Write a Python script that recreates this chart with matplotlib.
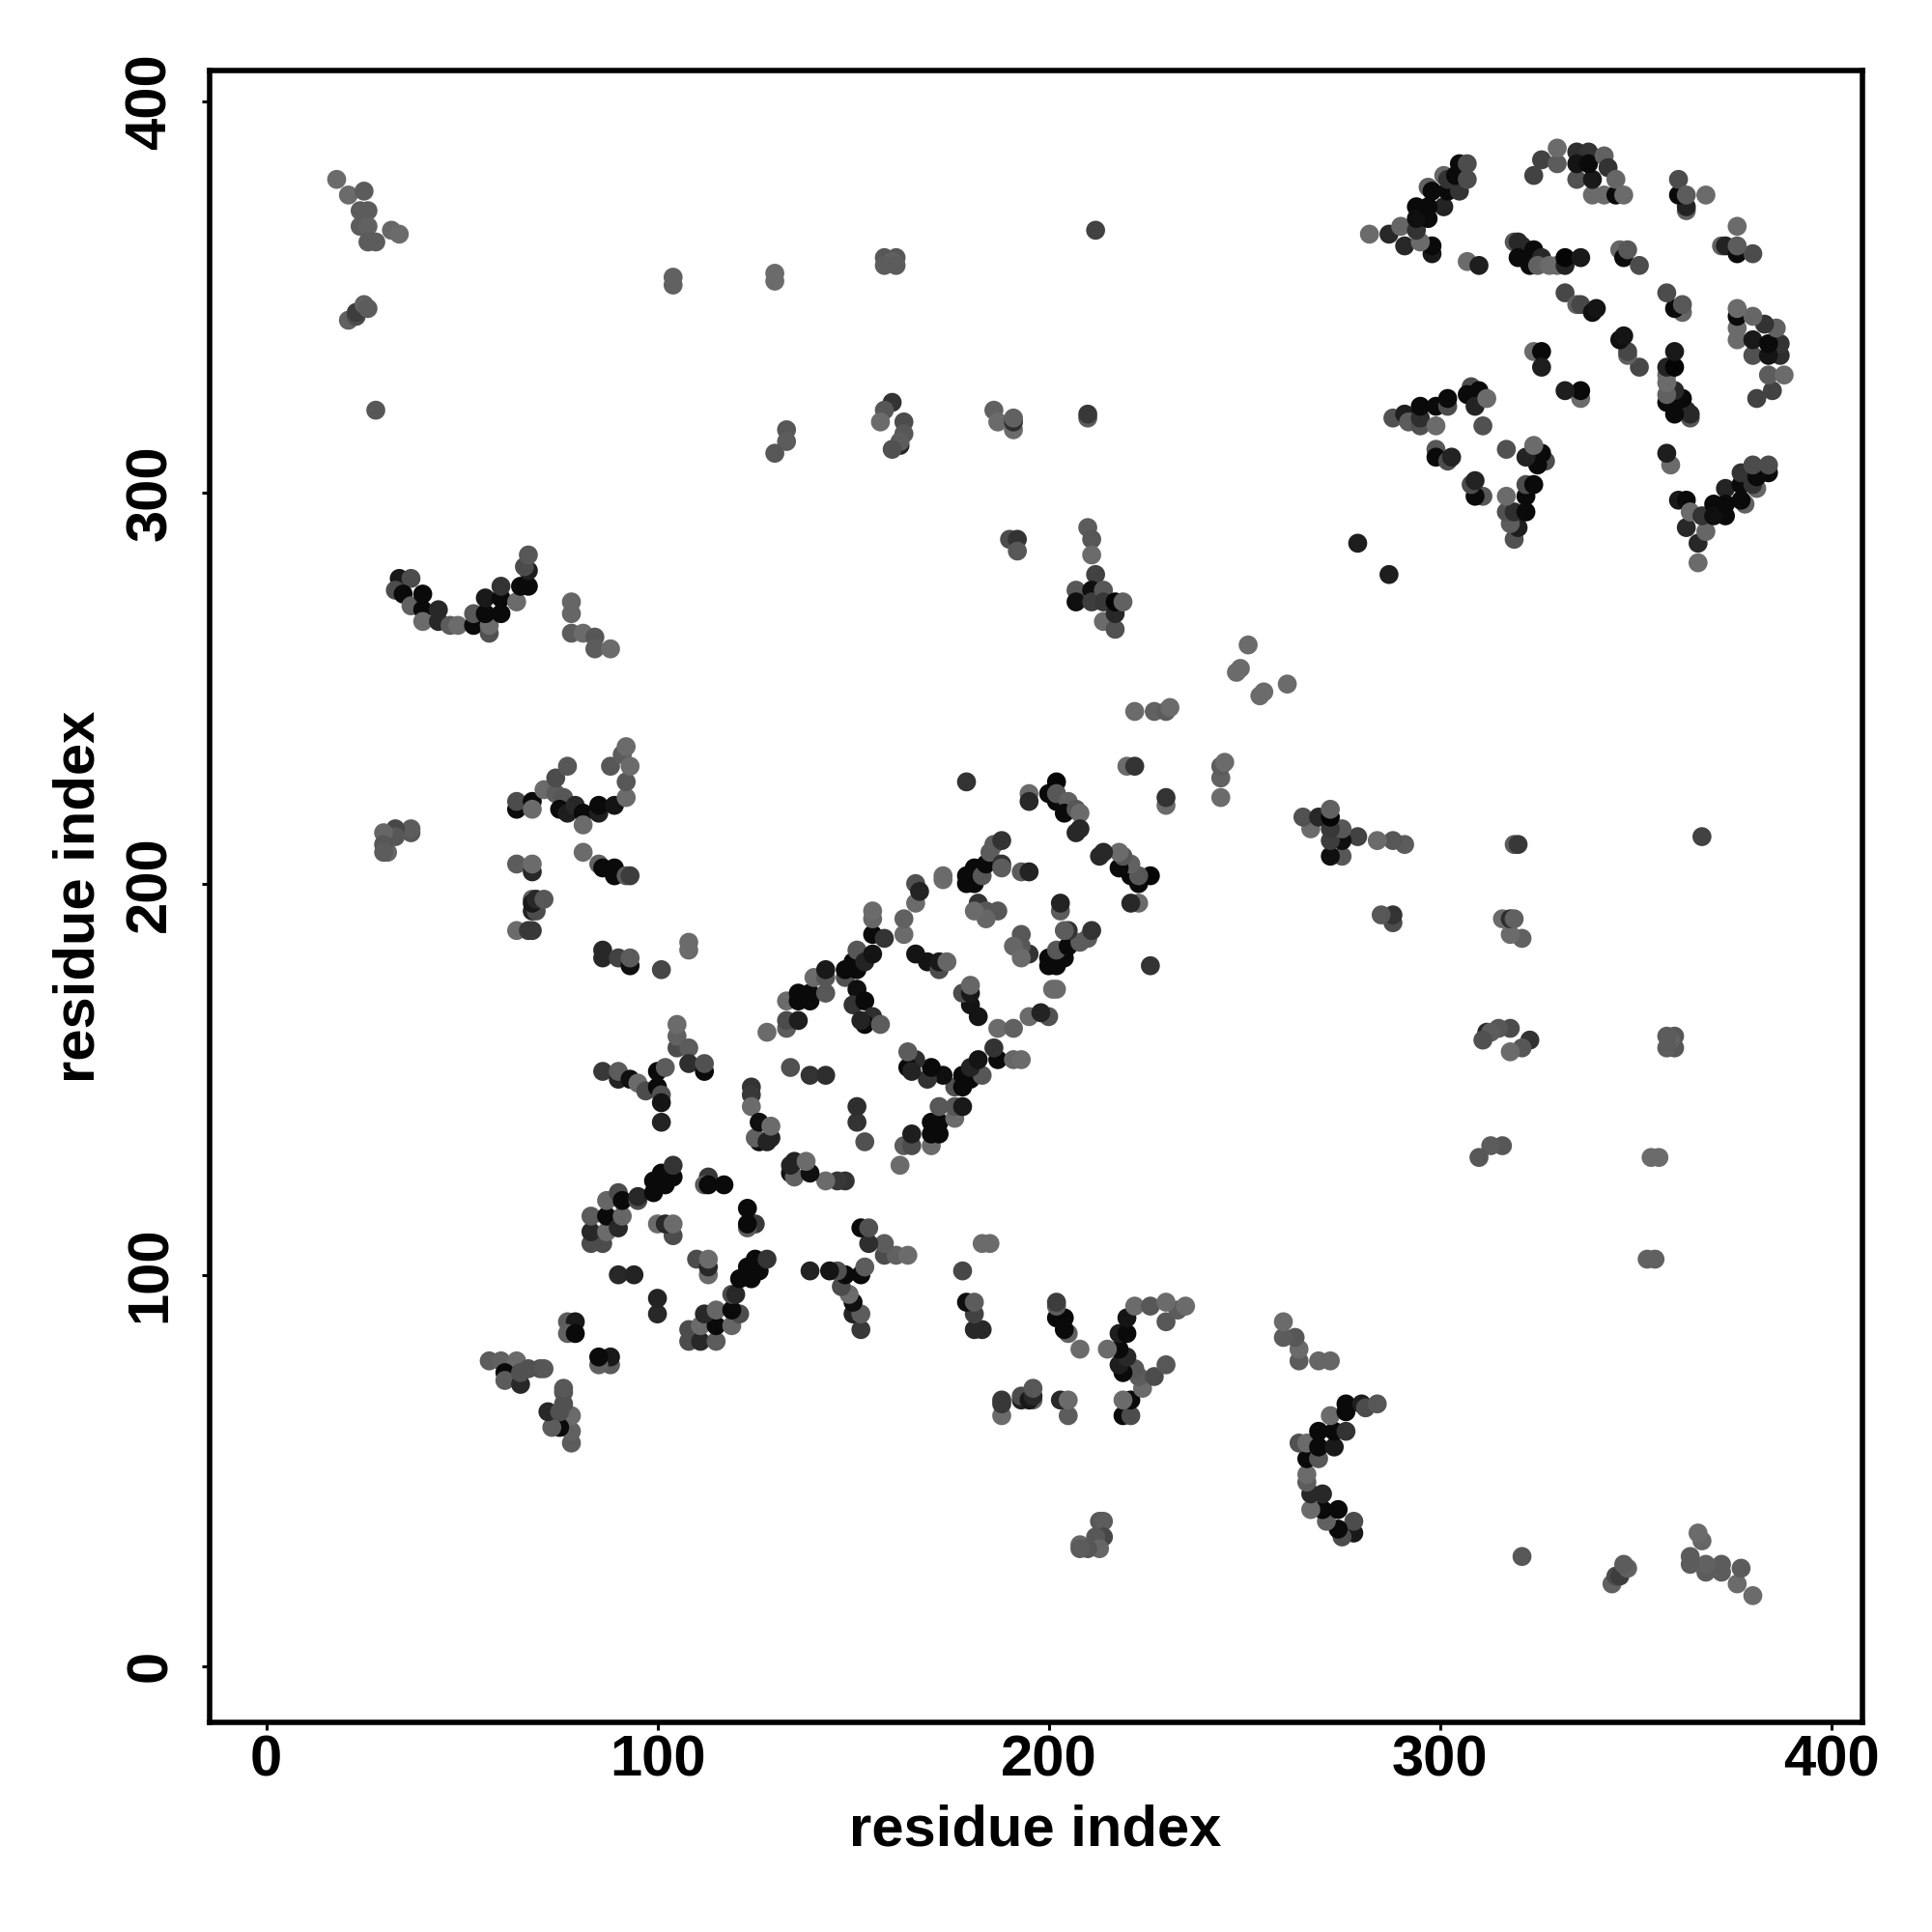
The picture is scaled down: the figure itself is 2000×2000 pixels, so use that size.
import numpy as np
import matplotlib
matplotlib.use('Agg')
import matplotlib.pyplot as plt

matplotlib.rcParams['font.family'] = ['Liberation Sans', 'DejaVu Sans']
matplotlib.rcParams['font.weight'] = 'bold'

# contacts, upper triangle only (the map is symmetric). one row per patch in all three lists
res_a = [18,21,25,24,26,24,26,26,28,32,34,
         21,23,23,25,26,
         28,
         37,37,33,33,30,31,30,30,
         34,33,37,35,37,40,40,40,44,44,47,49,53,53,57,57,56,60,56,60,60,64,65,67,67,66,67,
         78,78,78,81,84,84,88,
         64,64,68,68,71,74,74,77,76,75,77,79,81,81,85,85,89,92,92,88,91,93,92,
         81,85,86,89,89,92,93,
         64,68,68,
         68,68,69,68,69,71,
         64,67,68,
         86,86,90,93,93,
         101,
         108,108,
         86,90,90,93,95,97,100,100,101,102,105,105,105,108,108,112,112,
         101,101,
         83,86,83,87,83,87,90,91,87,90,91,95,95,99,99,102,104,101,104,
         100,104,102,104,
         113,112,113,117,
         90,94,
         77,79,77,79,
         57,60,64,61,61,65,65,67,70,71,
         128,133,133,136,133,136,136,139,139,140,143,143,143,148,148,150,151,152,151,153,155,155,158,155,155,
         163,163,166,166,167,173,173,
         179,179,181,181,183,184,185,186,188,188,188,
         193,195,
         195,195,
         179,
         200,202,202,202,205,204,207,208,207,208,
         182,184,187,184,181,
         166,169,172,172,174,
         151,150,153,155,153,152,157,
         134,139,143,
         124,124,124,126,125,126,129,128,129,
         104,104,130,130,158,161,160,158,161,212,
         133,133,130,
         160,158,157,163,163,162,162,160,
         186,187,191,191,191,
         210,210,
         190,192,192,
         210,211,211,212,207,207,211,211,214,214,214,217,217,217,219,
         251,249,248,
         222,227,230,231,
         220,222,
         279,
         282,287,291,298,298,295,290,294,294,297,294,297,301,297,298,302,305,301,302,304,305,307,307,
         307,310,
         319,320,321,320,323,324,326,325,328,330,332,332,336,
         346,347,348,351,
         332,335,336,339,340,
         324,326,326,
         326,324,330,330,335,338,335,335,339,342,339,338,342,343,345,345,347,
         363,363,361,361,363,368,
         288,291,292,295,295,295,299,299,302,302,
         308,307,310,309,311,312,
         299,299,302,303]
res_b = [380,376,377,372,372,368,368,364,364,367,366,
         344,345,346,348,347,
         321,
         213,214,214,212,213,208,210,208,
         278,275,278,274,271,274,270,267,270,267,266,266,266,269,264,266,269,269,273,273,276,272,276,276,280,281,284,
         272,269,264,264,263,260,260,
         219,221,221,219,224,223,227,230,222,219,218,220,218,215,218,220,220,222,226,230,233,230,235,
         208,205,204,204,202,202,202,
         205,203,205,
         196,193,193,195,196,196,
         188,188,188,
         183,181,181,179,181,
         178,
         185,183,
         152,150,152,150,149,147,152,148,146,153,158,161,164,158,154,152,154,
         144,139,
         108,108,111,111,115,115,112,115,119,121,119,119,120,121,124,123,125,126,128,
         113,110,113,113,
         125,123,123,123,
         100,100,
         88,88,85,85,
         78,78,78,75,73,72,75,76,76,76,
         162,163,165,165,170,172,170,170,172,176,172,176,178,176,178,180,178,181,183,180,182,187,186,191,193,
         187,191,195,200,198,201,202,
         200,202,204,200,202,205,208,210,211,205,204,
         203,203,
         223,221,
         226,
         223,221,226,223,221,218,219,218,213,214,
         195,193,193,191,193,
         182,180,178,180,180,
         173,169,170,166,164,165,164,
         153,151,151,
         148,146,143,134,135,139,135,134,138,
         355,353,356,354,360,360,359,358,358,367,
         316,313,310,
         323,321,318,318,315,312,313,311,
         321,318,316,318,319,
         319,320,
         288,288,285,
         291,288,284,279,275,272,275,272,275,272,267,265,269,272,272,
         261,255,254,
         244,244,244,245,
         230,230,
         287,
         366,366,363,361,363,364,368,367,373,370,370,378,373,373,377,377,377,381,380,381,384,384,380,
         359,358,
         364,364,363,360,358,362,360,358,358,358,358,360,360,
         362,360,362,358,
         351,348,348,346,347,
         336,336,332,
         385,381,384,388,387,387,380,384,376,376,380,384,386,383,376,380,376,
         372,373,376,380,376,376,
         319,320,318,317,319,322,322,317,322,324,
         327,325,326,322,317,324,
         311,309,308,309]
# grey level of each dot, 0 is black
grey = [.42,.42,.36,.36,.36,.36,.38,.36,.36,.40,.42,
        .38,.30,.24,.38,.36,
        .34,
        .34,.36,.28,.34,.40,.40,.34,.36,
        .10,.30,.30,.04,.38,.04,.04,.42,.16,.16,.36,.42,.04,.34,.32,.42,.04,.04,.10,.04,.20,.42,.04,.04,.12,.30,.34,
        .40,.40,.36,.42,.34,.36,.42,
        .04,.30,.04,.42,.42,.36,.30,.34,.34,.04,.12,.16,.04,.42,.12,.04,.08,.42,.34,.34,.36,.42,.42,
        .42,.38,.04,.04,.04,.36,.24,
        .36,.16,.42,
        .38,.14,.30,.10,.16,.34,
        .42,.22,.22,
        .16,.16,.26,.06,.36,
        .28,
        .42,.42,
        .22,.14,.36,.06,.42,.30,.04,.04,.32,.36,.30,.38,.42,.36,.18,.04,.32,
        .08,.14,
        .30,.30,.16,.42,.36,.04,.16,.40,.40,.30,.04,.30,.16,.04,.04,.04,.04,.04,.20,
        .42,.30,.16,.42,
        .22,.36,.04,.04,
        .16,.14,
        .36,.10,.38,.04,
        .36,.38,.42,.04,.36,.16,.32,.32,.32,.34,
        .42,.36,.30,.12,.42,.04,.04,.04,.04,.42,.34,.34,.10,.32,.04,.04,.04,.04,.34,.14,.08,.04,.20,.40,.42,
        .42,.38,.42,.32,.14,.42,.42,
        .04,.04,.04,.04,.34,.04,.36,.36,.20,.20,.36,
        .36,.14,
        .42,.16,
        .20,
        .04,.04,.02,.34,.38,.04,.34,.42,.16,.16,
        .20,.34,.34,.40,.42,
        .08,.08,.30,.10,.40,
        .06,.20,.04,.18,.04,.14,.36,
        .32,.20,.18,
        .20,.22,.42,.06,.38,.06,.14,.14,.42,
        .38,.38,.42,.42,.34,.34,.38,.36,.36,.26,
        .34,.36,.34,
        .20,.34,.42,.30,.34,.16,.36,.32,
        .38,.42,.42,.18,.38,
        .36,.22,
        .30,.20,.34,
        .36,.34,.42,.26,.34,.06,.06,.24,.34,.22,.42,.32,.16,.02,.38,
        .42,.42,.42,
        .42,.38,.36,.42,
        .42,.20,
        .12,
        .42,.16,.16,.10,.04,.42,.40,.20,.04,.04,.06,.38,.14,.04,.04,.04,.20,.40,.20,.04,.04,.30,.30,
        .42,.12,
        .34,.16,.16,.04,.04,.04,.16,.38,.42,.42,.14,.02,.10,
        .40,.04,.34,.30,
        .28,.38,.28,.06,.08,
        .42,.04,.12,
        .26,.26,.36,.42,.18,.20,.32,.08,.42,.42,.10,.04,.38,.20,.04,.40,.42,
        .38,.14,.04,.30,.36,.42,
        .32,.12,.36,.32,.18,.04,.04,.42,.30,.04,
        .30,.04,.04,.14,.32,.42,
        .34,.04,.30,.14]

tick_vals = [0, 100, 200, 300, 400]

res_a = np.array(res_a)
res_b = np.array(res_b)
grey = np.array(grey)

fig = plt.figure(figsize=(10, 10), dpi=200)
ax = fig.add_axes([0.10825, 0.1085, 0.8555, 0.85515])

# both halves of the map
ax.scatter(res_a, res_b, s=50, c=grey, cmap='gray', vmin=0, vmax=1, linewidths=0)
ax.scatter(res_b, res_a, s=50, c=grey, cmap='gray', vmin=0, vmax=1, linewidths=0)

ax.set_xlim(-14.6, 407.9)
ax.set_ylim(-14.4, 407.9)
ax.set_xticks(tick_vals)
ax.set_yticks(tick_vals)
ax.tick_params(length=3, width=1.1, labelsize=21.5)
ax.tick_params(axis='x', pad=1.5)
ax.tick_params(axis='y', pad=8.8)
for lab in ax.get_yticklabels():
    lab.set_rotation(90)
    lab.set_va('center')
for side in ax.spines:
    ax.spines[side].set_linewidth(2)

ax.set_xlabel('residue index', fontsize=21.5, fontweight='bold', labelpad=6)
ax.set_ylabel('residue index', fontsize=21.5, fontweight='bold', labelpad=7)

plt.savefig('out.png', dpi=200)
